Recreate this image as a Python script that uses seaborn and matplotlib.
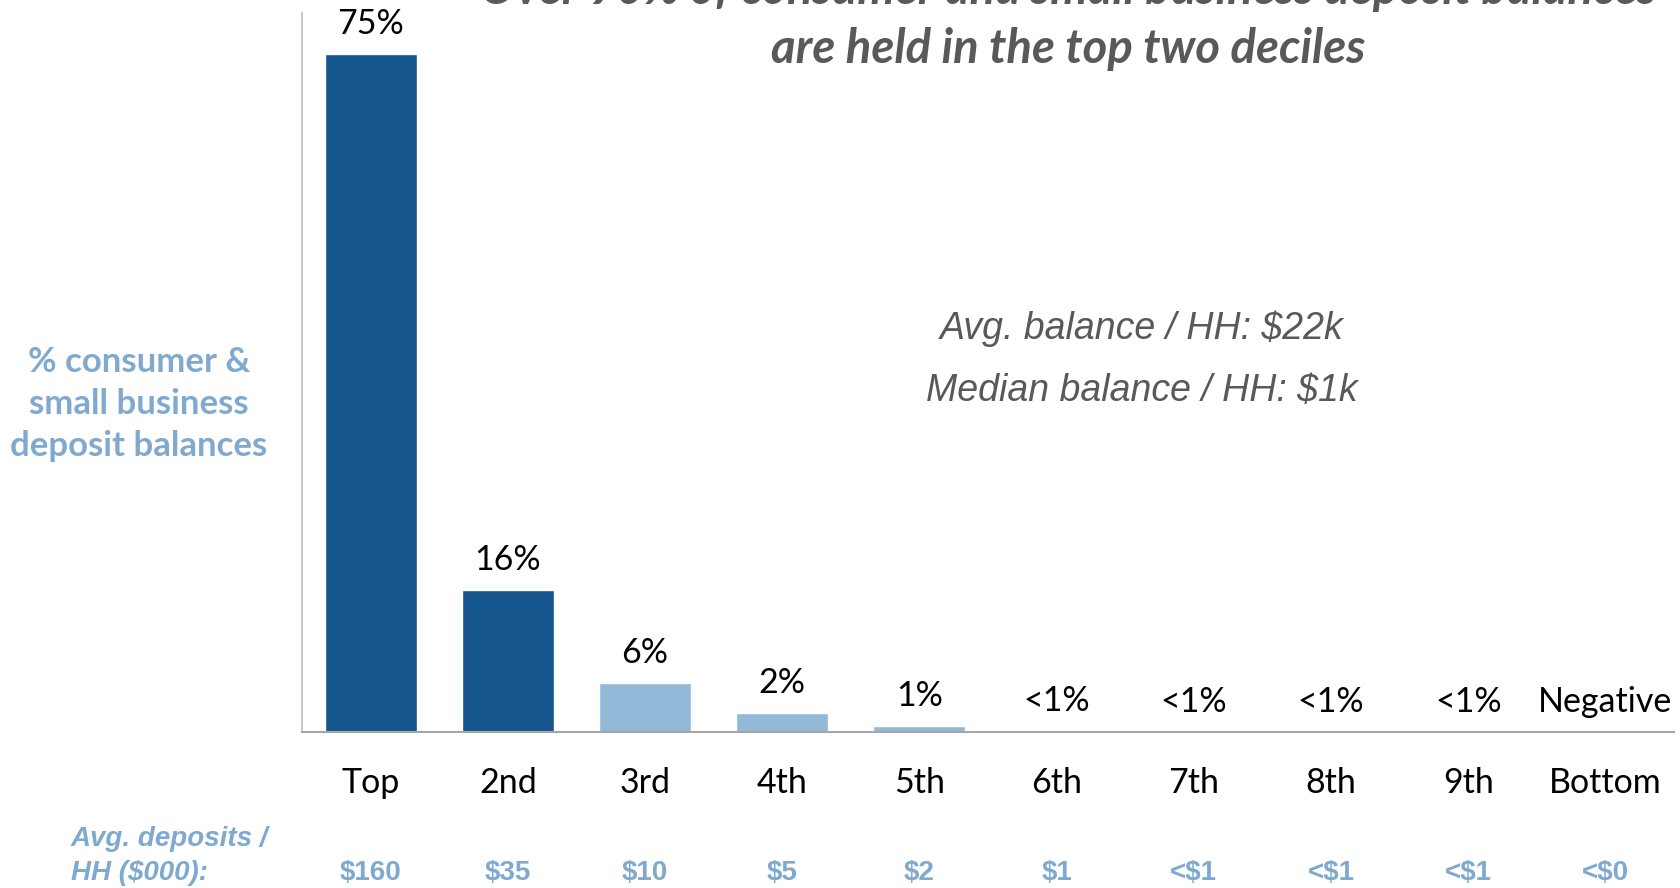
import matplotlib
matplotlib.use('Agg')
import matplotlib.pyplot as plt
import matplotlib.transforms as mtransforms
import pandas as pd
import seaborn as sns

# deciles of households by deposit balance
deciles = ['Top', '2nd', '3rd', '4th', '5th', '6th', '7th', '8th', '9th', 'Bottom']
share = [75, 15.7, 5.4, 2.1, 0.7, 0.15, 0.05, 0.03, 0.02, 0]
share_labels = ['75%', '16%', '6%', '2%', '1%', '<1%', '<1%', '<1%', '<1%', 'Negative']
avg_deposits = ['$160', '$35', '$10', '$5', '$2', '$1', '<$1', '<$1', '<$1', '<$0']

dark_blue = '#15568F'
light_blue = '#93B9D9'
text_blue = '#7FA9CF'
grey_text = '#595959'
bar_colors = [dark_blue, dark_blue] + [light_blue] * 8

df = pd.DataFrame({'decile': deciles, 'share': share})

sns.set_style('white')
plt.rcParams['font.family'] = ['Lato', 'DejaVu Sans']

fig = plt.figure(figsize=(16.81, 8.88), dpi=100)
ax = fig.add_axes([302 / 1681, 1 - 732 / 888, 1372 / 1681, 719 / 888])

sns.barplot(data=df, x='decile', y='share', hue='decile', palette=bar_colors,
            legend=False, width=0.67, saturation=1, ax=ax)

ax.set_xlim(-0.5, 9.5)
ax.set_ylim(0, 79.5)
ax.set_yticks([])
ax.set_xlabel('')
ax.set_ylabel('')
sns.despine(ax=ax, top=True, right=True)
ax.spines['left'].set_color('#BFBFBF')
ax.spines['left'].set_linewidth(1.2)
ax.spines['bottom'].set_color('#A6A6A6')
ax.spines['bottom'].set_linewidth(1.5)
ax.tick_params(axis='x', length=0, pad=25, labelsize=24.5, labelcolor='black')

# value labels above bars
for i, (v, lab) in enumerate(zip(share, share_labels)):
    ax.annotate(lab, (i, v), xytext=(0, 14), textcoords='offset pixels',
                ha='center', va='bottom', fontsize=24.5, color='black')

# average deposits row under the axis
row = mtransforms.blended_transform_factory(ax.transData, fig.transFigure)
for i, d in enumerate(avg_deposits):
    ax.text(i, 1 - 873 / 888, d, transform=row, ha='center', va='center',
            fontsize=20, fontweight='bold', color=text_blue,
            family='Liberation Sans')
fig.text(71 / 1681, 1 - 839 / 888, 'Avg. deposits /', ha='left', va='center',
         fontsize=20, fontweight='bold', style='italic', color=text_blue,
         family='Liberation Sans')
fig.text(71 / 1681, 1 - 873 / 888, 'HH ($000):', ha='left', va='center',
         fontsize=20, fontweight='bold', style='italic', color=text_blue,
         family='Liberation Sans')

# y-axis description
fig.text(139 / 1681, 1 - 404 / 888, '% consumer &\nsmall business\ndeposit balances',
         ha='center', va='center', fontsize=25, fontweight='bold',
         color=text_blue, linespacing=1.4)

# title (first line runs off the top)
fig.text(1068 / 1681, 1 + 10 / 888,
         'Over 90% of consumer and small business deposit balances',
         ha='center', va='center', fontsize=34, fontweight='bold',
         style='italic', color=grey_text)
fig.text(1068 / 1681, 1 - 49 / 888, 'are held in the top two deciles',
         ha='center', va='center', fontsize=34, fontweight='bold',
         style='italic', color=grey_text)

# averages note
fig.text(1142 / 1681, 1 - 329 / 888, 'Avg. balance / HH: $22k', ha='center',
         va='center', fontsize=27, style='italic', color=grey_text,
         family='Liberation Sans')
fig.text(1142 / 1681, 1 - 391 / 888, 'Median balance / HH: $1k', ha='center',
         va='center', fontsize=27, style='italic', color=grey_text,
         family='Liberation Sans')

fig.savefig('out.png', dpi=100)
